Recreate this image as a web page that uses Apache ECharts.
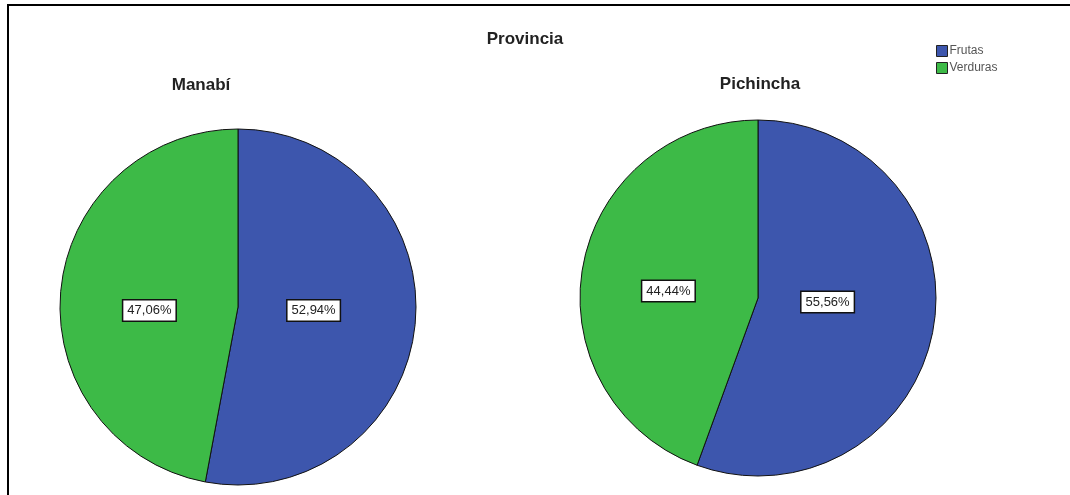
<!DOCTYPE html>
<html>
<head>
<meta charset="utf-8">
<script src="https://cdn.jsdelivr.net/npm/echarts@6/dist/echarts.min.js"></script>
<style>
  html, body { margin: 0; padding: 0; background: #fff; }
  #frame { position: absolute; left: 7px; top: 4px; width: 1063px; height: 491px;
           border-left: 2px solid #000; border-top: 2px solid #000; box-sizing: border-box; }
  #chart { position: absolute; left: 0; top: 0; width: 1070px; height: 495px; }
</style>
</head>
<body>
<div id="frame"></div>
<div id="chart"></div>
<script>
// Share of products by province (percent)
const categories = ['Frutas', 'Verduras'];
const provinces = ['Manabí', 'Pichincha'];
const manabiValues = [52.94, 47.06];
const pichinchaValues = [55.56, 44.44];

const colors = ['#3d56ad', '#3dba47'];
const fmt = v => v.toFixed(2).replace('.', ',') + '%';

// small nudges of the value boxes away from the default inside spot, per [series][slice]
const labelNudge = [
  [[-16, -5], [3, 12]],
  [[-21, -12], [1, 9]]
];

function pieSeries(name, values, center, si) {
  return {
    name: name,
    type: 'pie',
    center: center,
    radius: 178,
    startAngle: 90,
    clockwise: true,
    animation: false,
    silent: true,
    itemStyle: { borderColor: '#111', borderWidth: 1 },
    label: {
      show: true,
      position: 'inside',
      formatter: p => fmt(p.value),
      color: '#222',
      fontFamily: 'Liberation Sans, Arial, sans-serif',
      fontSize: 13,
      backgroundColor: '#fff',
      borderColor: '#111',
      borderWidth: 1.5,
      padding: [4, 4, 3, 4]
    },
    labelLayout: p => ({ dx: labelNudge[si][p.dataIndex][0], dy: labelNudge[si][p.dataIndex][1] }),
    labelLine: { show: false },
    data: categories.map((c, i) => ({ name: c, value: values[i] }))
  };
}

const chart = echarts.init(document.getElementById('chart'), null, { renderer: 'canvas' });
chart.setOption({
  backgroundColor: 'transparent',
  color: colors,
  title: [
    { text: 'Provincia', left: 520, top: 26, textAlign: 'center',
      textStyle: { fontFamily: 'Liberation Sans, Arial, sans-serif', fontSize: 17, fontWeight: 'bold', color: '#222' } },
    { text: provinces[0], left: 196, top: 72, textAlign: 'center',
      textStyle: { fontFamily: 'Liberation Sans, Arial, sans-serif', fontSize: 17, fontWeight: 'bold', color: '#222' } },
    { text: provinces[1], left: 755, top: 71, textAlign: 'center',
      textStyle: { fontFamily: 'Liberation Sans, Arial, sans-serif', fontSize: 17, fontWeight: 'bold', color: '#222' } }
  ],
  legend: {
    orient: 'vertical',
    left: 931,
    top: 40,
    itemWidth: 11,
    itemHeight: 11,
    itemGap: 5,
    icon: 'rect',
    selectedMode: false,
    itemStyle: { borderColor: '#222', borderWidth: 1 },
    textStyle: { fontFamily: 'Liberation Sans, Arial, sans-serif', fontSize: 12, color: '#555', padding: [0, 0, 0, -3] },
    data: categories
  },
  series: [
    pieSeries(provinces[0], manabiValues, [238, 307], 0),
    pieSeries(provinces[1], pichinchaValues, [758, 298], 1)
  ]
});
</script>
</body>
</html>
